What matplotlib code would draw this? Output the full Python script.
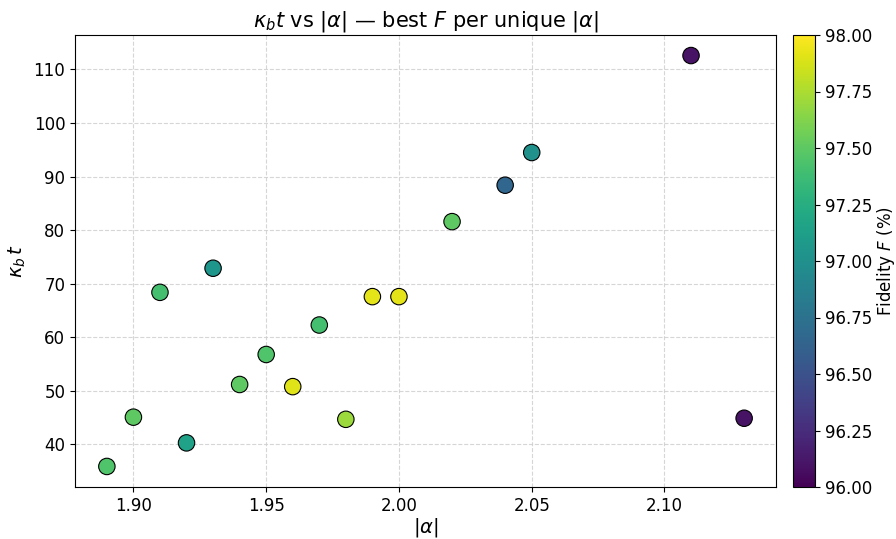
import matplotlib
matplotlib.use('Agg')
import matplotlib.pyplot as plt

# best fidelity per unique |alpha|
alpha = [1.89, 1.90, 1.91, 1.92, 1.93, 1.94, 1.95, 1.96, 1.97, 1.98,
         1.99, 2.00, 2.02, 2.04, 2.05, 2.11, 2.13]
kappa_t = [35.9, 45.1, 68.4, 40.3, 72.9, 51.2, 56.8, 50.8, 62.3, 44.7,
           67.6, 67.6, 81.6, 88.4, 94.5, 112.6, 44.9]
fidelity = [97.45, 97.5, 97.4, 97.15, 97.05, 97.5, 97.45, 97.9, 97.4, 97.7,
            97.92, 97.92, 97.5, 96.65, 97.0, 96.1, 96.1]

fig = plt.figure(figsize=(8.96, 5.39), dpi=100)
ax = fig.add_axes([75 / 896, 52 / 539, 701 / 896, 452 / 539])
cax = fig.add_axes([793 / 896, 52 / 539, 22 / 896, 452 / 539])

sc = ax.scatter(alpha, kappa_t, c=fidelity, cmap='viridis', vmin=96, vmax=98,
                s=140, edgecolors='black', linewidths=0.8, zorder=3)
ax.grid(True, linestyle='--', color='#cccccc', alpha=0.8, zorder=0)
ax.set_xticks([1.90, 1.95, 2.00, 2.05, 2.10])
ax.tick_params(labelsize=12)
ax.set_xlabel(r'$|\alpha|$', fontsize=14, labelpad=1)
ax.set_ylabel(r'$\kappa_b\,t$', fontsize=14)
ax.set_title(r'$\kappa_b t$ vs $|\alpha|$ — best $F$ per unique $|\alpha|$', fontsize=15)

cb = fig.colorbar(sc, cax=cax)
cb.set_label(r'Fidelity $F$ (%)', fontsize=12, labelpad=2)
cb.ax.tick_params(labelsize=12)

fig.savefig('out.png', dpi=100)
